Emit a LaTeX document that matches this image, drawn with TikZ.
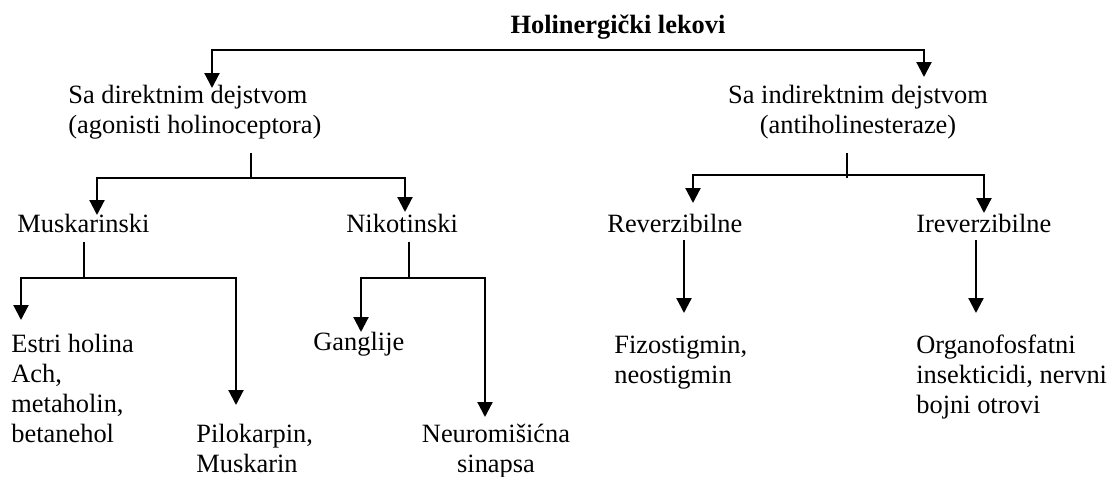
\documentclass[tikz,border=0pt]{standalone}
\usepackage{fontspec}
\setmainfont{Liberation Serif}
\usetikzlibrary{arrows.meta}
\begin{document}
\begin{tikzpicture}[x=0.5pt,y=-0.5pt,
  lbl/.style={inner sep=0pt,anchor=base west,font=\fontsize{13.2}{15}\selectfont},
  lblc/.style={lbl,anchor=base},
  bar/.style={line width=0.85pt},
  arr/.style={line width=1.1pt,-{Triangle[width=7.5pt,length=7.5pt]}},
]
\fill[white] (0,0) rectangle (1110,477);
\useasboundingbox (0,0) rectangle (1110,477);

% labels
\node[lblc,font=\fontsize{13.2}{15}\selectfont\bfseries] (root) at (618,33) {Holinergički lekovi};
\node[lbl] (direct) at (68,103) {\begin{tabular}[t]{@{}l@{}}Sa direktnim dejstvom\\(agonisti holinoceptora)\end{tabular}};
\node[lblc] (indirect) at (858,103) {\begin{tabular}[t]{@{}c@{}}Sa indirektnim dejstvom\\(antiholinesteraze)\end{tabular}};
\node[lbl] (musk) at (17,232) {Muskarinski};
\node[lbl] (nik) at (346,232) {Nikotinski};
\node[lbl] (rev) at (607,232) {Reverzibilne};
\node[lbl] (irev) at (916,232) {Ireverzibilne};
\node[lbl] (estri) at (11,352) {\begin{tabular}[t]{@{}l@{}}Estri holina\\Ach,\\metaholin,\\betanehol\end{tabular}};
\node[lbl] (pilo) at (196,442) {\begin{tabular}[t]{@{}l@{}}Pilokarpin,\\Muskarin\end{tabular}};
\node[lbl] (gang) at (313,350) {Ganglije};
\node[lblc] (neuro) at (496,442) {\begin{tabular}[t]{@{}c@{}}Neuromišićna\\sinapsa\end{tabular}};
\node[lbl] (fizo) at (614,353) {\begin{tabular}[t]{@{}l@{}}Fizostigmin,\\neostigmin\end{tabular}};
\node[lbl] (organo) at (916,353) {\begin{tabular}[t]{@{}l@{}}Organofosfatni\\insekticidi, nervni\\bojni otrovi\end{tabular}};

% junctions and arrow ends
\coordinate (rootL) at (212,50);
\coordinate (rootR) at (924,50);
\coordinate (directIn) at (212,88);
\coordinate (indirectIn) at (924,77);

\coordinate (directOut) at (251,153);
\coordinate (directJ) at (251,178);
\coordinate (muskJ) at (97,178);
\coordinate (nikJ) at (405,178);
\coordinate (muskIn) at (97,215);
\coordinate (nikIn) at (405,212);

\coordinate (muskOut) at (84,242);
\coordinate (muskS) at (84,278);
\coordinate (estriJ) at (21,278);
\coordinate (piloJ) at (236,278);
\coordinate (estriIn) at (21,320);
\coordinate (piloIn) at (236,405);

\coordinate (nikOut) at (409,242);
\coordinate (nikS) at (409,278);
\coordinate (gangJ) at (361,278);
\coordinate (neuroJ) at (485,278);
\coordinate (gangIn) at (361,332);
\coordinate (neuroIn) at (485,417);

\coordinate (indirectOut) at (847,153);
\coordinate (indirectJ) at (847,178);
\coordinate (revJ) at (693,175);
\coordinate (irevJ) at (984,175);
\coordinate (revIn) at (693,203);
\coordinate (irevIn) at (984,213);

\coordinate (revOut) at (684,240);
\coordinate (fizoIn) at (684,313);
\coordinate (irevOut) at (976,240);
\coordinate (organoIn) at (976,313);

% connectors
\draw[bar] (rootL) -- (rootR);
\draw[arr] ([yshift=0.4pt]rootL) -- (directIn);
\draw[arr] ([yshift=0.4pt]rootR) -- (indirectIn);

\draw[bar] (directOut) -- (directJ);
\draw[bar] (muskJ) -- (nikJ);
\draw[arr] ([yshift=0.4pt]muskJ) -- (muskIn);
\draw[arr] ([yshift=0.4pt]nikJ) -- (nikIn);

\draw[bar] (muskOut) -- (muskS);
\draw[bar] (estriJ) -- (piloJ);
\draw[arr] ([yshift=0.4pt]estriJ) -- (estriIn);
\draw[arr] ([yshift=0.4pt]piloJ) -- (piloIn);

\draw[bar] (nikOut) -- (nikS);
\draw[bar] (gangJ) -- (neuroJ);
\draw[arr] ([yshift=0.4pt]gangJ) -- (gangIn);
\draw[arr] ([yshift=0.4pt]neuroJ) -- (neuroIn);

\draw[bar] (indirectOut) -- (indirectJ);
\draw[bar] (revJ) -- (irevJ);
\draw[arr] ([yshift=0.4pt]revJ) -- (revIn);
\draw[arr] ([yshift=0.4pt]irevJ) -- (irevIn);

\draw[arr] (revOut) -- (fizoIn);
\draw[arr] (irevOut) -- (organoIn);
\end{tikzpicture}
\end{document}
